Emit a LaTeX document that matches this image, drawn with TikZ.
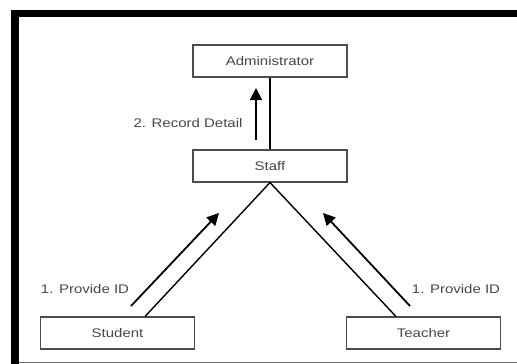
\documentclass[tikz,border=0pt]{standalone}
\usepackage{fontspec}
\setmainfont[FakeStretch=1.2]{Liberation Sans}
\usetikzlibrary{arrows.meta}
\begin{document}
\begin{tikzpicture}[x=1pt,y=-1pt,
  txt/.style={text=black!72, font=\fontsize{12.5}{14}\selectfont},
  box/.style={txt, draw=black!70, line width=1.1pt, minimum width=154pt,
    minimum height=32pt, inner sep=0pt},
  lbl/.style={txt, inner sep=0pt},
  link/.style={line width=1.4pt},
  flow/.style={line width=1.8pt, -{Triangle[length=12pt,width=12pt]}}]
\useasboundingbox (0,0) rectangle (517,364);
\fill[white] (0,0) rectangle (517,364);
% heavy frame along the top and left, thin rule at the bottom
\fill[black] (11,10) rectangle (517,17);
\fill[black] (11,10) rectangle (19,364);
\draw[black!55, line width=1pt] (19,362.5) -- (517,362.5);

% actors
\node[box] (admin)   at (270,61)    {Administrator};
\node[box] (staff)   at (270,166)   {Staff};
\node[box] (student) at (117.5,333) {Student};
\node[box] (teacher) at (423.5,333) {Teacher};

% associations
\draw[link] (admin.south) -- (staff.north);
\draw[link] (staff.south) -- (student.31);
\draw[link] (staff.south) -- (teacher.149);

% message arrows
\coordinate (recA) at (256,140);
\coordinate (recB) at (256,88);
\coordinate (stuA) at (131,306);
\coordinate (stuB) at (219,213);
\coordinate (teaA) at (410,306);
\coordinate (teaB) at (323,213);
\draw[flow] (recA) -- (recB);
\draw[flow] (stuA) -- (stuB);
\draw[flow] (teaA) -- (teaB);

% message labels
\node[lbl] (recL) at (188,123) {2. Record Detail};
\node[lbl] (stuL) at (85,289)  {1. Provide ID};
\node[lbl] (teaL) at (456,289) {1. Provide ID};
\end{tikzpicture}
\end{document}
